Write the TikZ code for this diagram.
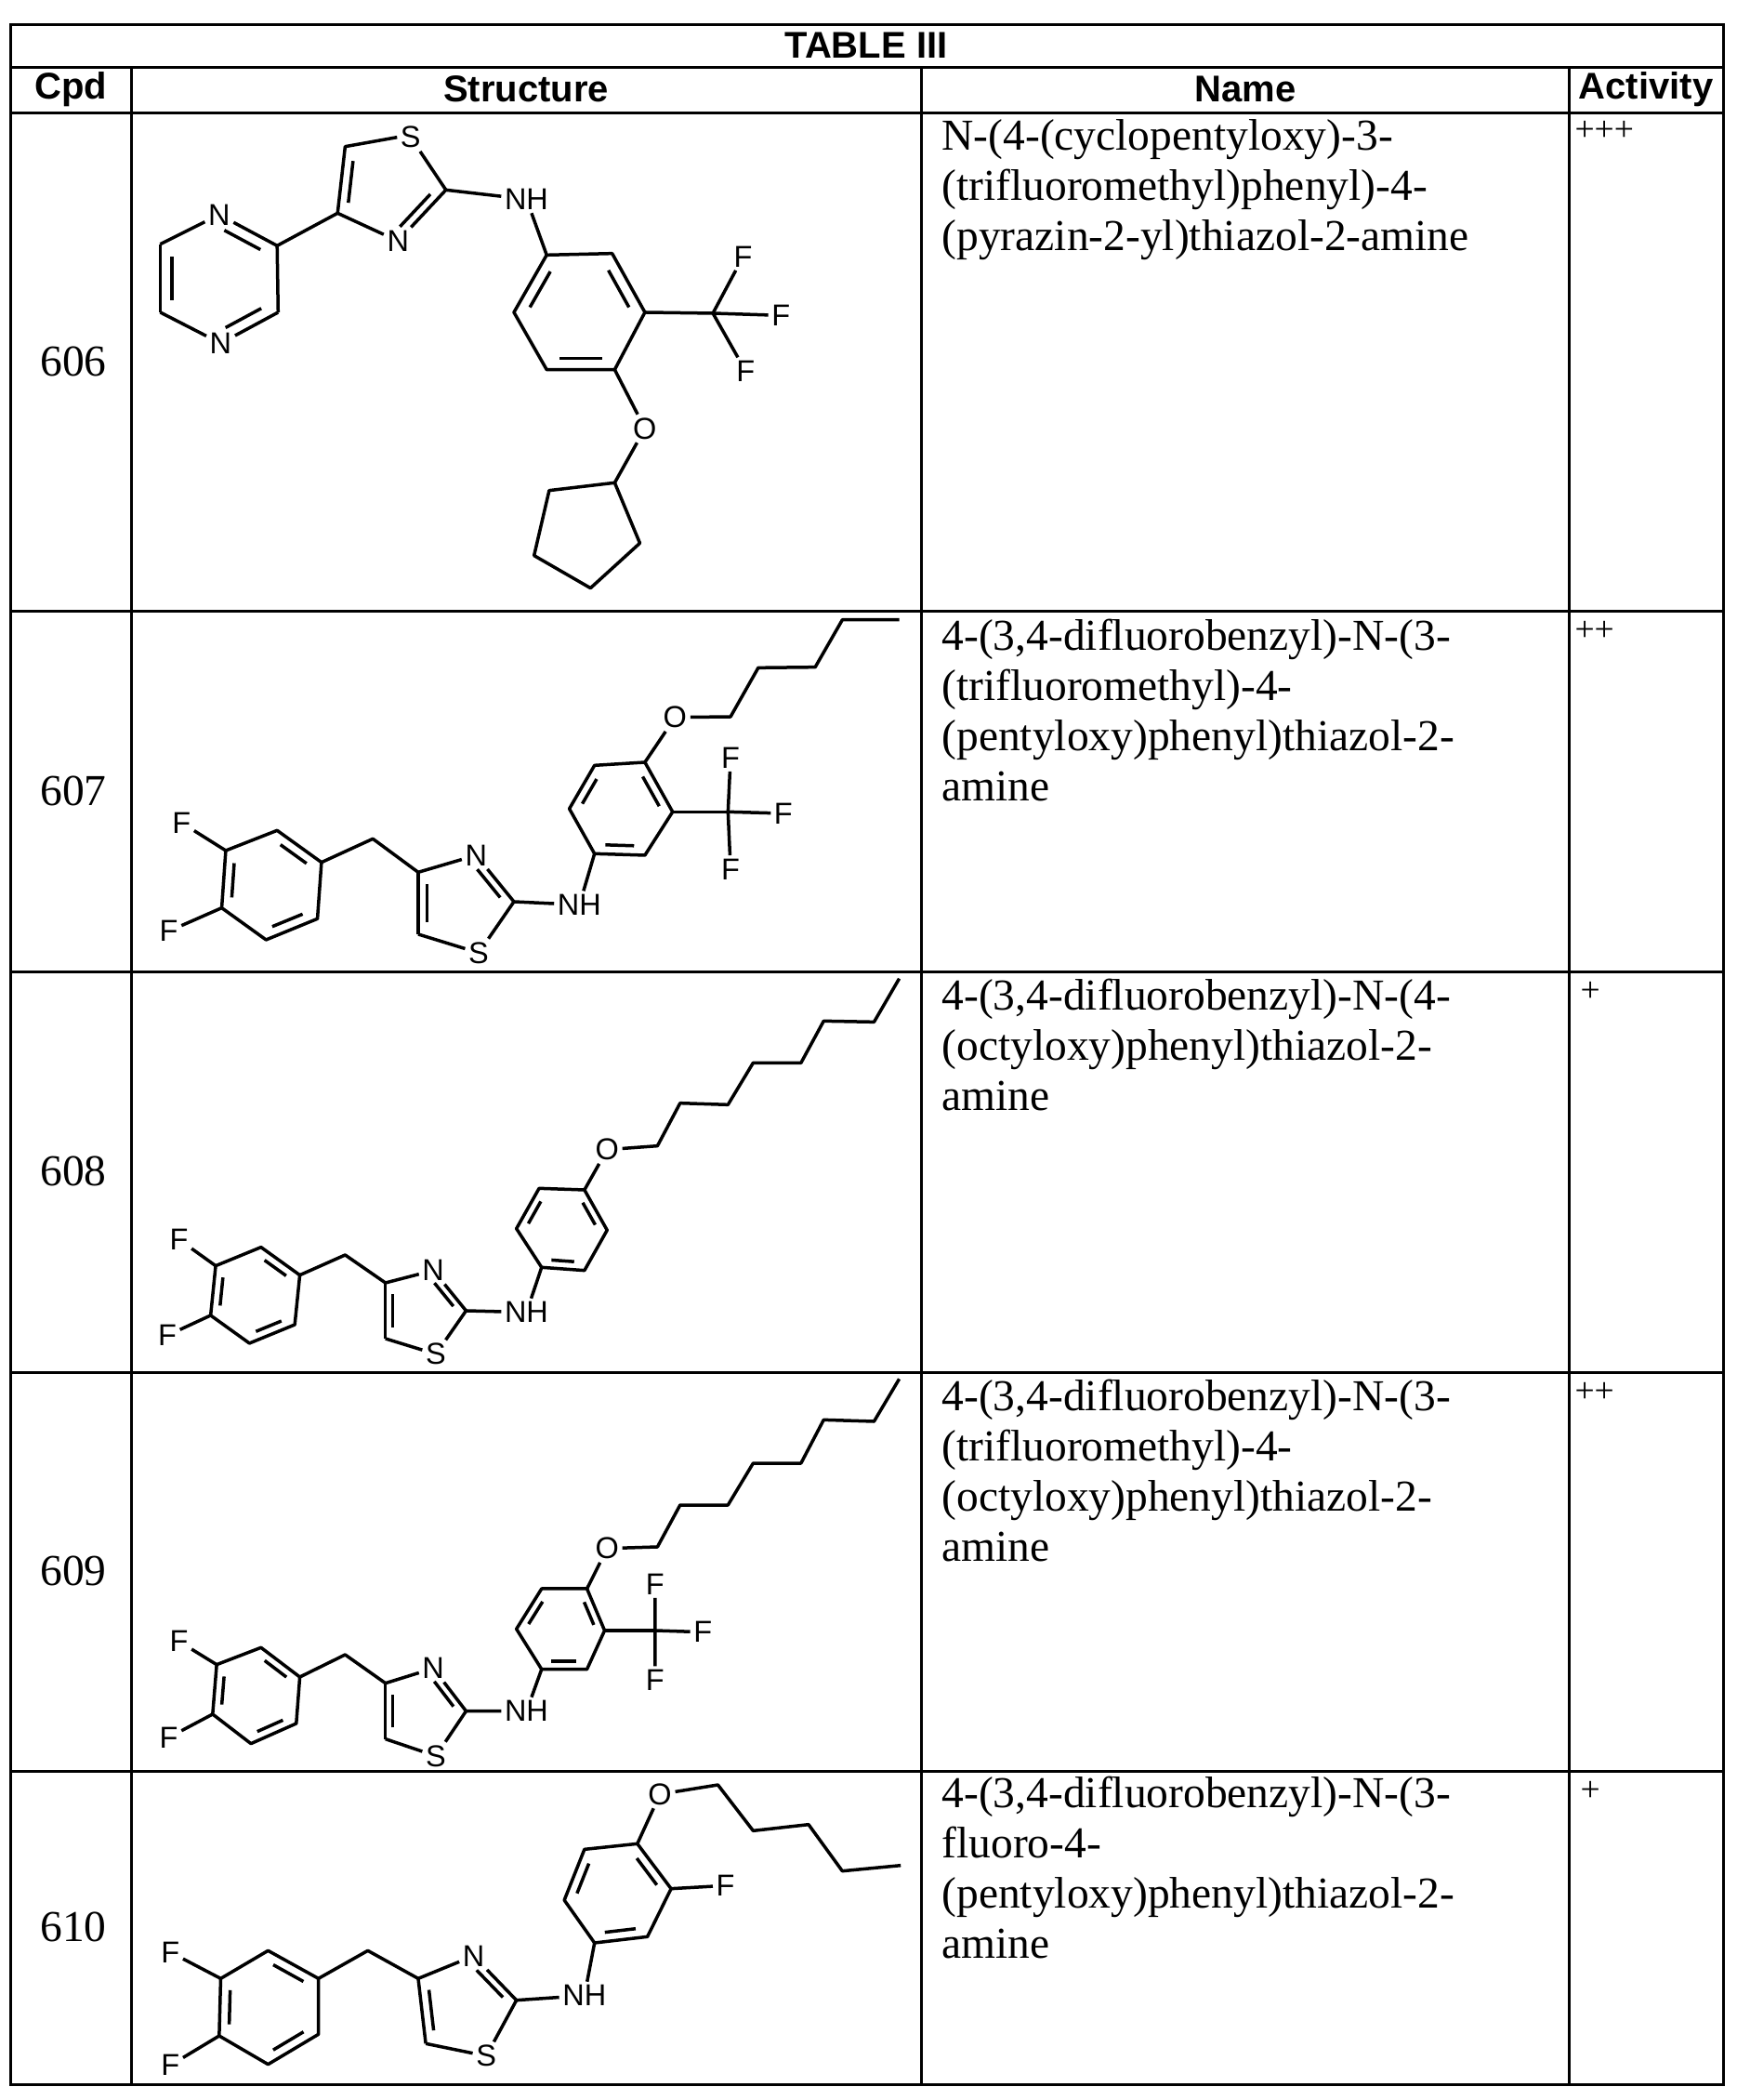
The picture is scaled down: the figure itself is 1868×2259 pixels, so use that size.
\documentclass[tikz,border=0pt]{standalone}
\usepackage{fontspec}
\setmainfont{Liberation Serif}
\newfontfamily\atomfont{Liberation Sans}
\usetikzlibrary{calc}
\tikzset{
 bond/.style={line width=1.4pt, line join=round},
 atom/.style={font=\fontsize{13}{13}\selectfont\atomfont, inner sep=1.3pt},
 grid/.style={line width=1.2pt},
 hdr/.style={font=\fontsize{16}{16}\selectfont\atomfont\bfseries},
 cpd/.style={font=\fontsize{19}{21.6}\selectfont},
 nm/.style={font=\fontsize{19}{21.6}\selectfont, align=left, anchor=north west, inner sep=0pt},
 act/.style={font=\fontsize{15}{15}\selectfont, anchor=north west, inner sep=0pt},
 mol/.style={xscale=0.542, yscale=0.3333}
}
\newcommand\dbond[3]{\draw[bond, shorten <=2.5pt, shorten >=2.5pt] ($(#1)!0.2!(#3)$) -- ($(#2)!0.2!(#3)$);}
\begin{document}
\begin{tikzpicture}[x=0.4pt,y=-0.4pt]
\useasboundingbox (0,0) rectangle (1868,2259);
% ---- table grid
\draw[grid] (11.5,26) rectangle (1854,2242);
\foreach \yy in {72,121,657,1045,1476,1905} \draw[grid] (11.5,\yy) -- (1854,\yy);
\foreach \xx in {141,991,1688} \draw[grid] (\xx,72) -- (\xx,2242);
\node[hdr] (title) at (932,49) {TABLE III};
\node[hdr] (hc) at (76,96) {Cpd};
\node[hdr] (hs) at (566,96) {Structure};
\node[hdr] (hn) at (1340,96) {Name};
\node[hdr] (ha) at (1771,96) {Activity};
% ---- cpd numbers
\node[cpd] (c606) at (79,389) {606};
\node[cpd] (c607) at (79,851) {607};
\node[cpd] (c608) at (79,1260) {608};
\node[cpd] (c609) at (79,1690) {609};
\node[cpd] (c610) at (79,2073) {610};
% ---- names
\node[nm] (n606) at (1013,128) {N-(4-(cyclopentyloxy)-3-\\(trifluoromethyl)phenyl)-4-\\(pyrazin-2-yl)thiazol-2-amine};
\node[nm] (n607) at (1013,666) {4-(3,4-difluorobenzyl)-N-(3-\\(trifluoromethyl)-4-\\(pentyloxy)phenyl)thiazol-2-\\amine};
\node[nm] (n608) at (1013,1053) {4-(3,4-difluorobenzyl)-N-(4-\\(octyloxy)phenyl)thiazol-2-\\amine};
\node[nm] (n609) at (1013,1484) {4-(3,4-difluorobenzyl)-N-(3-\\(trifluoromethyl)-4-\\(octyloxy)phenyl)thiazol-2-\\amine};
\node[nm] (n610) at (1013,1911) {4-(3,4-difluorobenzyl)-N-(3-\\fluoro-4-\\(pentyloxy)phenyl)thiazol-2-\\amine};
% ---- activity
\node[act] (a606) at (1694,130) {+++};
\node[act] (a607) at (1694,668) {++};
\node[act] (a608) at (1700,1056) {+};
\node[act] (a609) at (1694,1487) {++};
\node[act] (a610) at (1700,1916) {+};

% ================= 606
\begin{scope}[shift={(141,121)}, mol]
\node[atom] (aN1) at (175,330) {N};
\node[atom] (aN4) at (178,745) {N};
\coordinate (aB) at (290,430); \coordinate (aC) at (292,645);
\coordinate (aE) at (58,645); \coordinate (aF) at (58,425);
\coordinate (aPc) at (175,537);
\draw[bond] (aF) -- (aN1); \draw[bond] (aN1) -- (aB); \draw[bond] (aB) -- (aC);
\draw[bond] (aC) -- (aN4); \draw[bond] (aN4) -- (aE); \draw[bond] (aE) -- (aF);
\dbond{aN1}{aB}{aPc} \dbond{aC}{aN4}{aPc} \dbond{aE}{aF}{aPc}
\coordinate (aT4) at (410,325); \coordinate (aT5) at (425,110);
\node[atom] (aS) at (555,80) {S};
\coordinate (aT2) at (625,250);
\node[atom] (aN3) at (530,415) {N};
\coordinate (aTc) at (510,250);
\draw[bond] (aT4) -- (aT5) -- (aS.west);
\draw[bond] (aS) -- (aT2); \draw[bond] (aT2) -- (aN3); \draw[bond] (aN3) -- (aT4);
\dbond{aT4}{aT5}{aTc} \dbond{aT2}{aN3}{aTc}
\draw[bond] (aB) -- (aT4);
\node[atom] (aNH) at (785,280) {NH};
\coordinate (aR1) at (825,460); \coordinate (aR2) at (955,455);
\coordinate (aR3) at (1020,645); \coordinate (aR4) at (960,830);
\coordinate (aR5) at (825,830); \coordinate (aR6) at (760,645);
\coordinate (aRc) at (890,645);
\draw[bond] (aT2) -- (aNH); \draw[bond] (aNH) -- (aR1);
\draw[bond] (aR1) -- (aR2) -- (aR3) -- (aR4) -- (aR5) -- (aR6) -- cycle;
\dbond{aR1}{aR6}{aRc} \dbond{aR2}{aR3}{aRc} \dbond{aR4}{aR5}{aRc}
\coordinate (aCF) at (1155,648);
\node[atom] (aF1) at (1215,465) {F};
\node[atom] (aF2) at (1290,655) {F};
\node[atom] (aF3) at (1220,835) {F};
\draw[bond] (aR3) -- (aCF);
\draw[bond] (aCF) -- (aF1); \draw[bond] (aCF) -- (aF2); \draw[bond] (aCF) -- (aF3);
\node[atom] (aO) at (1020,1020) {O};
\coordinate (aP1) at (960,1195); \coordinate (aP2) at (830,1220);
\coordinate (aP3) at (800,1430); \coordinate (aP4) at (912,1535);
\coordinate (aP5) at (1010,1390);
\draw[bond] (aR4) -- (aO); \draw[bond] (aO) -- (aP1);
\draw[bond] (aP1) -- (aP2) -- (aP3) -- (aP4) -- (aP5) -- cycle;
\end{scope}

% ================= 607
\begin{scope}[shift={(141,655)}, mol]
\coordinate (bA) at (290,715); \coordinate (bB) at (378,818);
\coordinate (bC) at (370,1000); \coordinate (bD) at (268,1068);
\coordinate (bE) at (180,965); \coordinate (bG) at (188,780);
\coordinate (bc) at (276,890);
\draw[bond] (bA) -- (bB) -- (bC) -- (bD) -- (bE) -- (bG) -- cycle;
\dbond{bA}{bB}{bc} \dbond{bG}{bE}{bc} \dbond{bD}{bC}{bc}
\node[atom] (bF1) at (100,690) {F};
\node[atom] (bF2) at (75,1040) {F};
\draw[bond] (bG) -- (bF1); \draw[bond] (bE) -- (bF2);
\coordinate (bCH) at (480,742);
\coordinate (bT4) at (570,850);
\node[atom] (bN) at (685,795) {N};
\coordinate (bT2) at (760,945);
\node[atom] (bS) at (690,1110) {S};
\coordinate (bT5) at (570,1050);
\coordinate (bTc) at (660,950);
\draw[bond] (bB) -- (bCH) -- (bT4);
\draw[bond] (bT4) -- (bN); \draw[bond] (bN) -- (bT2); \draw[bond] (bT2) -- (bS);
\draw[bond] (bS) -- (bT5); \draw[bond] (bT5) -- (bT4);
\dbond{bN}{bT2}{bTc} \dbond{bT5}{bT4}{bTc}
\node[atom] (bNH) at (890,955) {NH};
\coordinate (bR1) at (920,790); \coordinate (bR2) at (1020,795);
\coordinate (bR3) at (1075,655); \coordinate (bR4) at (1020,495);
\coordinate (bR5) at (920,505); \coordinate (bR6) at (870,645);
\coordinate (bRc) at (970,645);
\draw[bond] (bT2) -- (bNH); \draw[bond] (bNH) -- (bR1);
\draw[bond] (bR1) -- (bR2) -- (bR3) -- (bR4) -- (bR5) -- (bR6) -- cycle;
\dbond{bR1}{bR2}{bRc} \dbond{bR3}{bR4}{bRc} \dbond{bR5}{bR6}{bRc}
\coordinate (bCF) at (1185,655);
\node[atom] (bF3) at (1190,480) {F};
\node[atom] (bF4) at (1295,660) {F};
\node[atom] (bF5) at (1190,840) {F};
\draw[bond] (bR3) -- (bCF);
\draw[bond] (bCF) -- (bF3); \draw[bond] (bCF) -- (bF4); \draw[bond] (bCF) -- (bF5);
\node[atom] (bO) at (1080,350) {O};
\coordinate (bK1) at (1190,348); \coordinate (bK2) at (1245,190);
\coordinate (bK3) at (1358,188); \coordinate (bK4) at (1412,35);
\coordinate (bK5) at (1525,35);
\draw[bond] (bR4) -- (bO); \draw[bond] (bO) -- (bK1) -- (bK2) -- (bK3) -- (bK4) -- (bK5);
\end{scope}

% ================= 608
\begin{scope}[shift={(141,1040)}, mol]
\coordinate (cA) at (258,905); \coordinate (cB) at (335,995);
\coordinate (cC) at (325,1155); \coordinate (cD) at (235,1215);
\coordinate (cE) at (158,1125); \coordinate (cG) at (168,965);
\coordinate (cc) at (246,1060);
\draw[bond] (cA) -- (cB) -- (cC) -- (cD) -- (cE) -- (cG) -- cycle;
\dbond{cA}{cB}{cc} \dbond{cG}{cE}{cc} \dbond{cD}{cC}{cc}
\node[atom] (cF1) at (95,880) {F};
\node[atom] (cF2) at (72,1190) {F};
\draw[bond] (cG) -- (cF1); \draw[bond] (cE) -- (cF2);
\coordinate (cCH) at (425,930);
\coordinate (cT4) at (505,1020);
\node[atom] (cN) at (600,980) {N};
\coordinate (cT2) at (665,1110);
\node[atom] (cS) at (605,1250) {S};
\coordinate (cT5) at (505,1200);
\coordinate (cTc) at (575,1110);
\draw[bond] (cB) -- (cCH) -- (cT4);
\draw[bond] (cT4) -- (cN); \draw[bond] (cN) -- (cT2); \draw[bond] (cT2) -- (cS);
\draw[bond] (cS) -- (cT5); \draw[bond] (cT5) -- (cT4);
\dbond{cN}{cT2}{cTc} \dbond{cT5}{cT4}{cTc}
\node[atom] (cNH) at (785,1115) {NH};
\coordinate (cR1) at (815,970); \coordinate (cR2) at (900,980);
\coordinate (cR3) at (945,850); \coordinate (cR4) at (900,720);
\coordinate (cR5) at (810,715); \coordinate (cR6) at (765,845);
\coordinate (cRc) at (855,845);
\draw[bond] (cT2) -- (cNH); \draw[bond] (cNH) -- (cR1);
\draw[bond] (cR1) -- (cR2) -- (cR3) -- (cR4) -- (cR5) -- (cR6) -- cycle;
\dbond{cR1}{cR2}{cRc} \dbond{cR3}{cR4}{cRc} \dbond{cR5}{cR6}{cRc}
\node[atom] (cO) at (945,590) {O};
\draw[bond] (cR4) -- (cO);
\draw[bond] (cO) -- (1045,578) -- (1090,440) -- (1185,445) -- (1235,310) -- (1330,310) -- (1375,175) -- (1475,178) -- (1525,38);
\end{scope}

% ================= 609
\begin{scope}[shift={(141,1474)}, mol]
\coordinate (dA) at (258,895); \coordinate (dB) at (335,990);
\coordinate (dC) at (328,1140); \coordinate (dD) at (238,1205);
\coordinate (dE) at (162,1110); \coordinate (dG) at (170,950);
\coordinate (dc) at (248,1048);
\draw[bond] (dA) -- (dB) -- (dC) -- (dD) -- (dE) -- (dG) -- cycle;
\dbond{dA}{dB}{dc} \dbond{dG}{dE}{dc} \dbond{dD}{dC}{dc}
\node[atom] (dF1) at (95,875) {F};
\node[atom] (dF2) at (75,1185) {F};
\draw[bond] (dG) -- (dF1); \draw[bond] (dE) -- (dF2);
\coordinate (dCH) at (425,918);
\coordinate (dT4) at (505,1010);
\node[atom] (dN) at (600,962) {N};
\coordinate (dT2) at (665,1100);
\node[atom] (dS) at (605,1245) {S};
\coordinate (dT5) at (505,1190);
\coordinate (dTc) at (575,1100);
\draw[bond] (dB) -- (dCH) -- (dT4);
\draw[bond] (dT4) -- (dN); \draw[bond] (dN) -- (dT2); \draw[bond] (dT2) -- (dS);
\draw[bond] (dS) -- (dT5); \draw[bond] (dT5) -- (dT4);
\dbond{dN}{dT2}{dTc} \dbond{dT5}{dT4}{dTc}
\node[atom] (dNH) at (785,1100) {NH};
\coordinate (dR1) at (815,965); \coordinate (dR2) at (905,965);
\coordinate (dR3) at (940,840); \coordinate (dR4) at (905,705);
\coordinate (dR5) at (815,705); \coordinate (dR6) at (765,835);
\coordinate (dRc) at (855,835);
\draw[bond] (dT2) -- (dNH); \draw[bond] (dNH) -- (dR1);
\draw[bond] (dR1) -- (dR2) -- (dR3) -- (dR4) -- (dR5) -- (dR6) -- cycle;
\dbond{dR1}{dR2}{dRc} \dbond{dR3}{dR4}{dRc} \dbond{dR5}{dR6}{dRc}
\coordinate (dCF) at (1040,840);
\node[atom] (dF3) at (1040,690) {F};
\node[atom] (dF4) at (1135,845) {F};
\node[atom] (dF5) at (1040,1000) {F};
\draw[bond] (dR3) -- (dCF);
\draw[bond] (dCF) -- (dF3); \draw[bond] (dCF) -- (dF4); \draw[bond] (dCF) -- (dF5);
\node[atom] (dO) at (945,575) {O};
\draw[bond] (dR4) -- (dO);
\draw[bond] (dO) -- (1045,570) -- (1090,435) -- (1185,435) -- (1235,300) -- (1330,300) -- (1375,160) -- (1475,165) -- (1525,28);
\end{scope}

% ================= 610
\begin{scope}[shift={(141,1900)}, mol]
\coordinate (eA) at (272,595); \coordinate (eB) at (372,685);
\coordinate (eC) at (372,865); \coordinate (eD) at (272,962);
\coordinate (eE) at (175,870); \coordinate (eG) at (178,685);
\coordinate (ec) at (273,778);
\draw[bond] (eA) -- (eB) -- (eC) -- (eD) -- (eE) -- (eG) -- cycle;
\dbond{eA}{eB}{ec} \dbond{eG}{eE}{ec} \dbond{eD}{eC}{ec}
\node[atom] (eF1) at (78,600) {F};
\node[atom] (eF2) at (78,965) {F};
\draw[bond] (eG) -- (eF1); \draw[bond] (eE) -- (eF2);
\coordinate (eCH) at (470,595);
\coordinate (eT4) at (570,685);
\node[atom] (eN) at (680,612) {N};
\coordinate (eT2) at (765,755);
\node[atom] (eS) at (705,935) {S};
\coordinate (eT5) at (585,895);
\coordinate (eTc) at (670,775);
\draw[bond] (eB) -- (eCH) -- (eT4);
\draw[bond] (eT4) -- (eN); \draw[bond] (eN) -- (eT2); \draw[bond] (eT2) -- (eS);
\draw[bond] (eS) -- (eT5); \draw[bond] (eT5) -- (eT4);
\dbond{eN}{eT2}{eTc} \dbond{eT5}{eT4}{eTc}
\node[atom] (eNH) at (900,740) {NH};
\coordinate (eR1) at (920,570); \coordinate (eR2) at (1025,550);
\coordinate (eR3) at (1072,395); \coordinate (eR4) at (1005,250);
\coordinate (eR5) at (900,268); \coordinate (eR6) at (860,432);
\coordinate (eRc) at (965,410);
\draw[bond] (eT2) -- (eNH); \draw[bond] (eNH) -- (eR1);
\draw[bond] (eR1) -- (eR2) -- (eR3) -- (eR4) -- (eR5) -- (eR6) -- cycle;
\dbond{eR1}{eR2}{eRc} \dbond{eR3}{eR4}{eRc} \dbond{eR5}{eR6}{eRc}
\node[atom] (eF3) at (1180,385) {F};
\draw[bond] (eR3) -- (eF3);
\node[atom] (eO) at (1050,90) {O};
\draw[bond] (eR4) -- (eO);
\draw[bond] (eO) -- (1165,60) -- (1235,208) -- (1345,188) -- (1412,338) -- (1528,320);
\end{scope}
\end{tikzpicture}
\end{document}
